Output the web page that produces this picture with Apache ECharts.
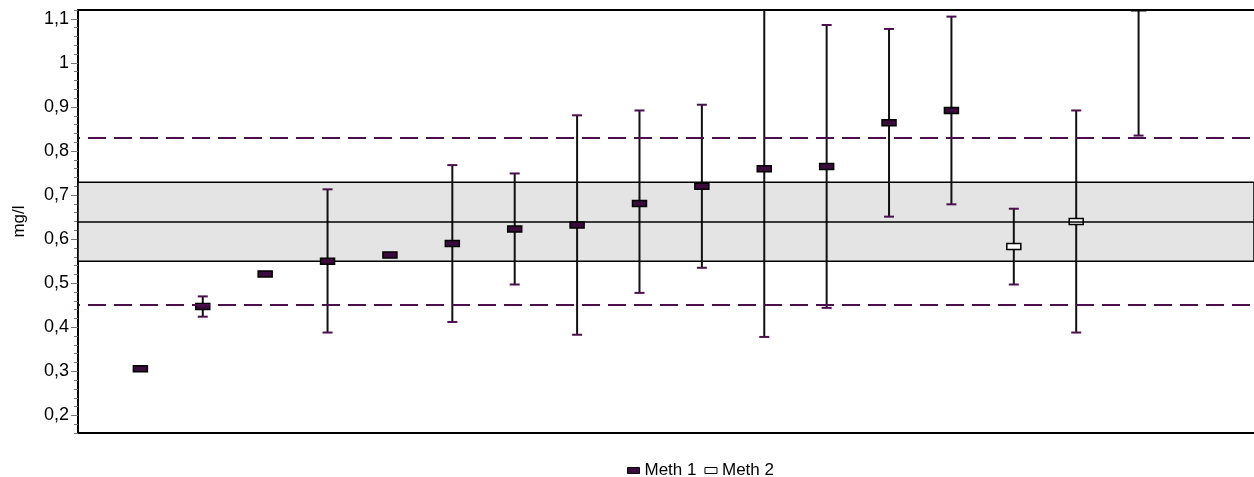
<!DOCTYPE html>
<html>
<head>
<meta charset="utf-8">
<script src="https://cdn.jsdelivr.net/npm/echarts@6/dist/echarts.min.js"></script>
<style>
  html, body { margin: 0; padding: 0; background: #fff; }
  #chart { width: 1254px; height: 477px; }
</style>
</head>
<body>
<div id="chart"></div>
<script>
// Sample positions along the x axis (1 = first laboratory)
const positions = [1, 2, 3, 4, 5, 6, 7, 8, 9, 10, 11, 12, 13, 14, 15, 16, 17];
// Method used by each sample
const methods = [1, 1, 1, 1, 1, 1, 1, 1, 1, 1, 1, 1, 1, 1, 2, 2, 1];
// Reported mean (mg/l)
const means = [0.306, 0.447, 0.521, 0.550, 0.564, 0.590, 0.623, 0.632, 0.681, 0.720, 0.760, 0.765, 0.864, 0.892, 0.583, 0.640, 1.125];
// Lower / upper uncertainty bounds (null = no interval reported)
const lowers = [null, 0.424, null, 0.388, null, 0.412, 0.497, 0.383, 0.478, 0.535, 0.378, 0.444, 0.651, 0.679, 0.497, 0.388, 0.835];
const uppers = [null, 0.470, null, 0.713, null, 0.768, 0.749, 0.881, 0.892, 0.905, 1.142, 1.086, 1.077, 1.105, 0.669, 0.892, 1.415];

// Assigned value with its tolerance band and the outer limits
const assignedValue = 0.637;
const bandLow = 0.550;
const bandHigh = 0.729;
const limitLow = 0.4465;
const limitHigh = 0.835;

// Y axis range and labelled ticks
const yMin = 0.16;
const yMax = 1.12;
const yLabelTicks = [0.2, 0.3, 0.4, 0.5, 0.6, 0.7, 0.8, 0.9, 1.0, 1.1];

const seriesNames = ['Meth 1', 'Meth 2'];

const minorTicks = [];
for (let k = 8; k <= 56; k++) minorTicks.push(Math.round(k * 2) / 100);

function pointsFor(method) {
  const out = [];
  positions.forEach((p, i) => {
    if (methods[i] === method) out.push([p, means[i], lowers[i], uppers[i]]);
  });
  return out;
}

const CAP_COLOR = '#4b0f4e';

function makeRenderItem(hollow) {
  return function (params, api) {
    const x = api.value(0);
    const mean = api.value(1);
    const lo = api.value(2);
    const hi = api.value(3);
    const c = api.coord([x, mean]);
    const children = [];
    if (!isNaN(lo) && !isNaN(hi) && lo !== null && hi !== null) {
      const pLo = api.coord([x, lo]);
      const pHi = api.coord([x, hi]);
      children.push({
        type: 'line',
        shape: { x1: c[0], y1: pLo[1], x2: c[0], y2: pHi[1] },
        style: { stroke: '#111', lineWidth: 2 }
      });
      [pLo[1], pHi[1]].forEach(yy => {
        children.push({
          type: 'line',
          shape: { x1: c[0] - 5, y1: yy, x2: c[0] + 5, y2: yy },
          style: { stroke: CAP_COLOR, lineWidth: 2 }
        });
      });
    }
    children.push({
      type: 'rect',
      shape: { x: c[0] - 7, y: c[1] - 3, width: 14, height: 6 },
      style: {
        fill: hollow ? '#ffffff' : '#3a0b3c',
        stroke: '#000',
        lineWidth: 1.5
      }
    });
    return { type: 'group', children: children };
  };
}

const chart = echarts.init(document.getElementById('chart'), null, { renderer: 'canvas' });

const FONT = 'Liberation Sans, Arial, sans-serif';

chart.setOption({
  animation: false,
  backgroundColor: '#ffffff',
  textStyle: { fontFamily: FONT },
  grid: { left: 78, right: 0, top: 10, bottom: 44 },
  legend: {
    data: [
      { name: seriesNames[0], itemStyle: { color: '#3a0b3c', borderColor: '#000', borderWidth: 1 } },
      { name: seriesNames[1], itemStyle: { color: '#ffffff', borderColor: '#000', borderWidth: 1 } }
    ],
    icon: 'rect',
    itemWidth: 12,
    itemHeight: 6,
    itemGap: 8,
    left: 622,
    top: 457,
    textStyle: { fontFamily: FONT, fontSize: 17, color: '#000' },
    selectedMode: false
  },
  xAxis: [
    {
      type: 'value', min: 0, max: 18.85, position: 'bottom',
      axisLine: { show: true, lineStyle: { color: '#000', width: 2 } },
      axisTick: { show: false }, axisLabel: { show: false }, splitLine: { show: false }
    },
    {
      type: 'value', min: 0, max: 18.85, position: 'top',
      axisLine: { show: true, lineStyle: { color: '#000', width: 2 } },
      axisTick: { show: false }, axisLabel: { show: false }, splitLine: { show: false }
    }
  ],
  yAxis: [
    {
      type: 'value', min: yMin, max: yMax,
      name: 'mg/l', nameLocation: 'middle', nameRotate: 90, nameGap: 50,
      nameTextStyle: { fontFamily: FONT, fontSize: 17, color: '#000' },
      axisLine: { show: true, lineStyle: { color: '#000', width: 2 } },
      axisTick: { show: true, customValues: yLabelTicks, length: 7, lineStyle: { color: '#777', width: 1 } },
      axisLabel: {
        customValues: yLabelTicks,
        margin: 9,
        fontFamily: FONT, fontSize: 18, color: '#000',
        formatter: v => String(Math.round(v * 10) / 10).replace('.', ',')
      },
      splitLine: { show: false }
    },
    {
      type: 'value', min: yMin, max: yMax, position: 'left',
      axisLine: { show: false },
      axisTick: { show: true, customValues: minorTicks, length: 4, lineStyle: { color: '#777', width: 1 } },
      axisLabel: { show: false },
      splitLine: { show: false }
    }
  ],
  series: [
    {
      name: 'reference',
      type: 'line',
      data: [],
      z: 1,
      silent: true,
      markArea: {
        silent: true,
        itemStyle: { color: '#e4e4e4', borderColor: '#000', borderWidth: 1.5 },
        data: [[{ yAxis: bandLow }, { yAxis: bandHigh }]]
      },
      markLine: {
        silent: true,
        symbol: 'none',
        label: { show: false },
        data: [
          { yAxis: assignedValue, lineStyle: { color: '#000', width: 1.5, type: 'solid' } },
          { yAxis: limitHigh, lineStyle: { color: CAP_COLOR, width: 2, type: [18, 8], dashOffset: 16 } },
          { yAxis: limitLow, lineStyle: { color: CAP_COLOR, width: 2, type: [18, 8], dashOffset: 16 } }
        ]
      }
    },
    {
      name: seriesNames[0],
      type: 'custom',
      clip: true,
      z: 3,
      itemStyle: { color: '#3a0b3c' },
      renderItem: makeRenderItem(false),
      encode: { x: 0, y: 1 },
      data: pointsFor(1)
    },
    {
      name: seriesNames[1],
      type: 'custom',
      clip: true,
      z: 3,
      itemStyle: { color: '#ffffff' },
      renderItem: makeRenderItem(true),
      encode: { x: 0, y: 1 },
      data: pointsFor(2)
    }
  ]
});
</script>
</body>
</html>
